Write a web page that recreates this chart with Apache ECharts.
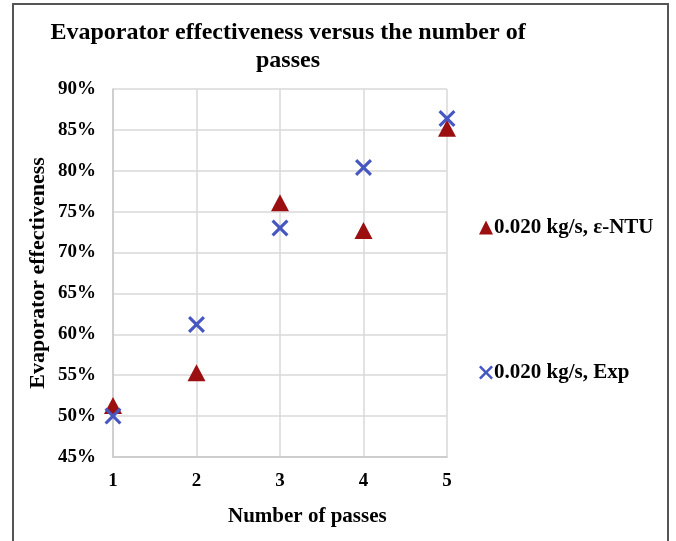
<!DOCTYPE html>
<html><head><meta charset="utf-8">
<script src="https://cdn.jsdelivr.net/npm/echarts@6/dist/echarts.min.js"></script>
<style>html,body{margin:0;padding:0;background:#fff}#c{width:676px;height:541px}</style>
</head><body><div id="c"></div>
<script>
var passes = [1, 2, 3, 4, 5];
var ntuValues = [51.3, 55.3, 76.1, 72.7, 85.2];
var expValues = [50.0, 61.2, 73.0, 80.4, 86.4];
var seriesNames = ['0.020 kg/s, ε-NTU', '0.020 kg/s, Exp'];
var yTicks = {min: 45, max: 90, interval: 5};

var crossPath = 'path://M1.3,0 L5,3.7 L8.7,0 L10,1.3 L6.3,5 L10,8.7 L8.7,10 L5,6.3 L1.3,10 L0,8.7 L3.7,5 L0,1.3 Z';
var font = '"Liberation Serif", "Times New Roman", serif';
var chart = echarts.init(document.getElementById('c'));
chart.setOption({
  animation: false,
  backgroundColor: '#fff',
  title: {
    text: 'Evaporator effectiveness versus the number of\npasses',
    left: 283, top: 14, textAlign: 'center',
    textStyle: {fontFamily: font, fontWeight: 'bold', fontSize: 24, color: '#000', lineHeight: 28}
  },
  graphic: [{
    type: 'polyline', shape: {points: [[13, 541], [13, 4], [668, 4], [668, 541]]},
    style: {stroke: '#555', lineWidth: 2, fill: null}
  }, {
    type: 'text', left: 228, top: 506,
    style: {text: 'Number of passes', font: 'bold 21px ' + font, fill: '#000'}
  }],
  grid: {left: 113, right: 229, top: 89, bottom: 84},
  legend: {
    orient: 'vertical', left: 474, top: 212, itemGap: 124,
    itemWidth: 14, itemHeight: 14,
    textStyle: {fontFamily: font, fontWeight: 'bold', fontSize: 21, color: '#000', padding: [0,0,0,-4]},
    data: [{name: seriesNames[0], icon: 'triangle'}, {name: seriesNames[1], icon: crossPath}]
  },
  xAxis: {
    type: 'value', min: 1, max: 5, interval: 1,
    axisLine: {show: true, lineStyle: {color: '#c8c8c8', width: 1.5}},
    axisTick: {show: false},
    splitLine: {show: true, lineStyle: {color: '#d9d9d9', width: 1.5}},
    axisLabel: {fontFamily: font, fontWeight: 'bold', fontSize: 19, color: '#000', margin: 15}
  },
  yAxis: {
    type: 'value', min: yTicks.min, max: yTicks.max, interval: yTicks.interval,
    name: 'Evaporator effectiveness', nameLocation: 'middle', nameGap: 64,
    nameTextStyle: {fontFamily: font, fontWeight: 'bold', fontSize: 22, color: '#000'},
    axisLine: {show: true, lineStyle: {color: '#c8c8c8', width: 1.5}},
    axisTick: {show: false},
    splitLine: {show: true, lineStyle: {color: '#d9d9d9', width: 1.5}},
    axisLabel: {fontFamily: font, fontWeight: 'bold', fontSize: 19, color: '#000', margin: 17,
      formatter: '{value}%'}
  },
  series: [{
    name: seriesNames[0], type: 'scatter', symbol: 'triangle', symbolSize: [18, 17],
    itemStyle: {color: '#9b0f10', opacity: 1},
    data: passes.map(function (p, i) { return [p, ntuValues[i]]; }),
    z: 2
  }, {
    name: seriesNames[1], type: 'scatter', symbol: crossPath, symbolSize: 17,
    itemStyle: {color: '#4657c2', opacity: 1},
    data: passes.map(function (p, i) { return [p, expValues[i]]; }),
    z: 3
  }]
});
</script></body></html>
